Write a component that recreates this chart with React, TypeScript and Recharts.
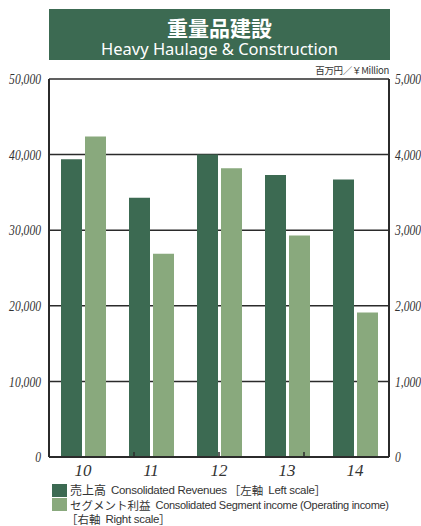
import React from 'react';
import { BarChart, Bar, XAxis, YAxis, CartesianGrid } from 'recharts';

const years = ['10', '11', '12', '13', '14'];
const revenues = [39400, 34300, 40000, 37300, 36700]; // 左軸
const segmentIncome = [4240, 2690, 3820, 2930, 1910]; // 右軸
const leftTicks = [0, 10000, 20000, 30000, 40000, 50000];
const rightTicks = [0, 1000, 2000, 3000, 4000, 5000];
const separators = [1, 2, 3, 4];

const DARK = '#3c6a52';
const LIGHT = '#89a97d';
const LINE = '#2b2b2b';

const data = years.map((year, i) => ({
    year,
    revenue: revenues[i],
    income: segmentIncome[i],
}));

const fmt = (v: number) => v.toLocaleString('en-US');

const serif = '"Liberation Serif", "DejaVu Serif", serif';
const jp = '"Noto Sans CJK JP", "Noto Sans", sans-serif';
const en = '"Liberation Sans", Arial, sans-serif';

// narrow italic numbers like the printed original
const NarrowTick = (props: any) => {
    const { x, y, payload, textAnchor } = props;
    return (
        <text
            x={0}
            y={0}
            dy="0.36em"
            transform={`translate(${x},${y}) scale(0.8,1)`}
            textAnchor={textAnchor}
            fontFamily={serif}
            fontStyle="italic"
            fontSize={14.5}
            fill="#333"
        >
            {fmt(payload.value)}
        </text>
    );
};

const EmptyTick = () => <g />;

export default function App() {
    return (
        <div style={{ position: 'absolute', left: 0, top: 0, width: 421, height: 526, background: '#fff' }}>
            {/* title band */}
            <div
                style={{
                    position: 'absolute',
                    left: 49,
                    top: 9,
                    width: 341,
                    height: 51,
                    background: DARK,
                    color: '#fff',
                    textAlign: 'center',
                }}
            >
                <div style={{ fontFamily: jp, fontWeight: 700, fontSize: 21, lineHeight: '24px', marginTop: 6 }}>
                    重量品建設
                </div>
                <div style={{ fontFamily: '"Noto Sans", sans-serif', fontSize: 16.5, lineHeight: '18px', marginTop: 1 }}>
                    Heavy Haulage &amp; Construction
                </div>
            </div>

            <div
                style={{
                    position: 'absolute',
                    right: 421 - 389,
                    top: 65,
                    fontFamily: jp,
                    fontSize: 9.5,
                    lineHeight: '11px',
                    color: '#333',
                    letterSpacing: -0.3,
                    whiteSpace: 'nowrap',
                }}
            >
                百万円／￥Million
            </div>

            <div style={{ position: 'absolute', left: 0, top: 0 }}>
                <BarChart
                    width={421}
                    height={526}
                    data={data}
                    margin={{ top: 79, right: 4, bottom: 40, left: 4 }}
                    barSize={21}
                    barGap={3}
                >
                    <CartesianGrid xAxisId="cat" yAxisId="left" vertical={false} stroke={LINE} strokeWidth={1.5} />
                    {/* base line with small marks between the years, pointing up */}
                    <XAxis
                        xAxisId="sep"
                        type="number"
                        domain={[0, 5]}
                        ticks={separators}
                        interval={0}
                        mirror
                        height={1}
                        axisLine={{ stroke: LINE, strokeWidth: 2 }}
                        tick={EmptyTick}
                        tickSize={5}
                        tickLine={{ stroke: LINE, strokeWidth: 1.5 }}
                    />
                    <XAxis
                        xAxisId="cat"
                        dataKey="year"
                        height={29}
                        axisLine={false}
                        tickLine={false}
                        tickSize={5}
                        tick={{ fontFamily: serif, fontStyle: 'italic', fontSize: 17, fill: '#333' }}
                    />
                    <YAxis
                        yAxisId="left"
                        width={45}
                        domain={[0, 50000]}
                        ticks={leftTicks}
                        axisLine={{ stroke: LINE, strokeWidth: 2 }}
                        tickLine={false}
                        tick={NarrowTick}
                    />
                    <YAxis
                        yAxisId="right"
                        orientation="right"
                        width={28}
                        domain={[0, 5000]}
                        ticks={rightTicks}
                        axisLine={{ stroke: LINE, strokeWidth: 2 }}
                        tickLine={false}
                        tickSize={4}
                        tickMargin={2}
                        tick={NarrowTick}
                    />
                    <Bar xAxisId="cat" yAxisId="left" dataKey="revenue" fill={DARK} isAnimationActive={false} />
                    <Bar xAxisId="cat" yAxisId="right" dataKey="income" fill={LIGHT} isAnimationActive={false} />
                </BarChart>
            </div>

            {/* legend */}
            <div style={{ position: 'absolute', left: 52, top: 483, color: '#333', whiteSpace: 'nowrap', lineHeight: '14px' }}>
                <div style={{ display: 'flex', alignItems: 'center', height: 14.5 }}>
                    <span style={{ width: 15, height: 13, background: DARK, marginRight: 3, display: 'inline-block' }} />
                    <span style={{ fontFamily: jp, fontSize: 12 }}>売上高</span>
                    <span style={{ fontFamily: en, fontSize: 11.5, letterSpacing: -0.3, marginLeft: 5 }}>
                        Consolidated Revenues
                    </span>
                    <span style={{ fontFamily: jp, fontSize: 11.5, marginLeft: 2 }}>［左軸</span>
                    <span style={{ fontFamily: en, fontSize: 11.5, letterSpacing: -0.3, marginLeft: 5 }}>Left scale</span>
                    <span style={{ fontFamily: jp, fontSize: 11.5 }}>］</span>
                </div>
                <div style={{ display: 'flex', alignItems: 'center', height: 14.5 }}>
                    <span style={{ width: 15, height: 13, background: LIGHT, marginRight: 3, display: 'inline-block' }} />
                    <span style={{ fontFamily: jp, fontSize: 11.5 }}>セグメント利益</span>
                    <span style={{ fontFamily: en, fontSize: 11, letterSpacing: -0.3, marginLeft: 5 }}>
                        Consolidated Segment income (Operating income)
                    </span>
                </div>
                <div style={{ display: 'flex', alignItems: 'center', height: 14.5, paddingLeft: 14 }}>
                    <span style={{ fontFamily: jp, fontSize: 11.5 }}>［右軸</span>
                    <span style={{ fontFamily: en, fontSize: 11.5, letterSpacing: -0.3, marginLeft: 5 }}>Right scale</span>
                    <span style={{ fontFamily: jp, fontSize: 11.5 }}>］</span>
                </div>
            </div>
        </div>
    );
}
